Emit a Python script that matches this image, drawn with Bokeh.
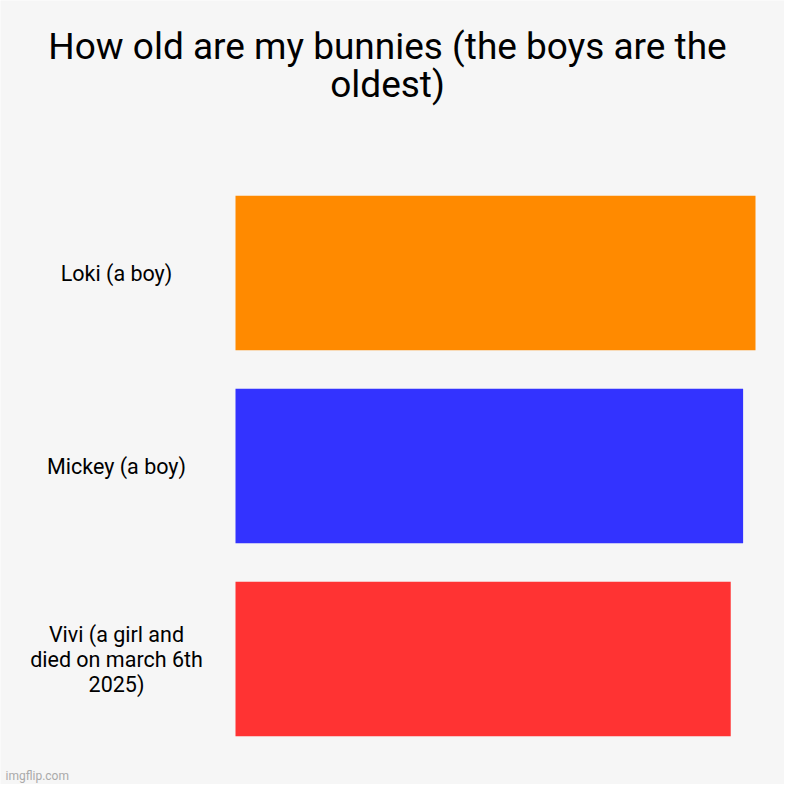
from bokeh.plotting import figure
from bokeh.models import Range1d
from bokeh.core.properties import value
from bokeh.embed import file_html
from bokeh.resources import INLINE

# --- data ---
bunnies = ["Loki (a boy)", "Mickey (a boy)", "Vivi (a girl and died on march 6th 2025)"]
tick_labels = ["Loki (a boy)", "Mickey (a boy)", "Vivi (a girl and\ndied on march 6th\n2025)"]
ages = [42, 41, 40]
colors = ["#ff8a00", "#3333ff", "#ff3333"]
title = "How old are my bunnies (the boys are the\noldest)"

bg = "#f6f6f6"
W = H = 784

# layout, in canvas pixels
bar_left_px = 235      # where the value 0 sits
bar_right_px = 755     # where the max value ends
band_top_px = 176      # top of the first category band
band_bottom_px = 755   # bottom of the last category band
label_center_px = 116
title_center_px = (387, 65)
mark_px = (5, 9)       # watermark: from the left, from the bottom

n = len(bunnies)
xscale = (bar_right_px - bar_left_px) / max(ages)
x_start = -bar_left_px / xscale
x_end = max(ages) + (W - bar_right_px) / xscale

band = (band_bottom_px - band_top_px) / n
rows = [n - 1 - i for i in range(n)]     # first bunny on top
y_start = -0.5 - (H - band_bottom_px) / band
y_end = n - 0.5 + band_top_px / band

p = figure(
    x_range=Range1d(x_start, x_end), y_range=Range1d(y_start, y_end),
    width=W, height=H,
    output_backend="svg", toolbar_location=None,
    min_border=0,
    background_fill_color=bg, border_fill_color=bg,
    outline_line_color=None,
)

p.hbar(y=rows, left=0, right=ages, height=0.8, fill_color=colors, line_color=None)

# category labels, centred in the left gutter
p.text(x=[x_start + label_center_px / xscale] * n, y=rows, text=tick_labels,
       text_font=value("Roboto"), text_font_size="21.5px", text_color="#000000",
       text_align="center", text_baseline="middle", text_line_height=1.0)

# title, both lines centred
p.text(x=[x_start + title_center_px[0] / xscale], y=[y_end - title_center_px[1] / band],
       text=[title], text_font=value("Roboto"), text_font_size="37px", text_color="#000000",
       text_align="center", text_baseline="middle", text_line_height=0.9)

# watermark
p.text(x=[x_start + mark_px[0] / xscale], y=[y_start + mark_px[1] / band], text=["imgflip.com"],
       text_font=value("Roboto"), text_font_size="12px", text_color="#aaaaaa",
       text_align="left", text_baseline="alphabetic")

p.axis.visible = False
p.grid.visible = False

open("out.html", "w").write(file_html(p, INLINE))
